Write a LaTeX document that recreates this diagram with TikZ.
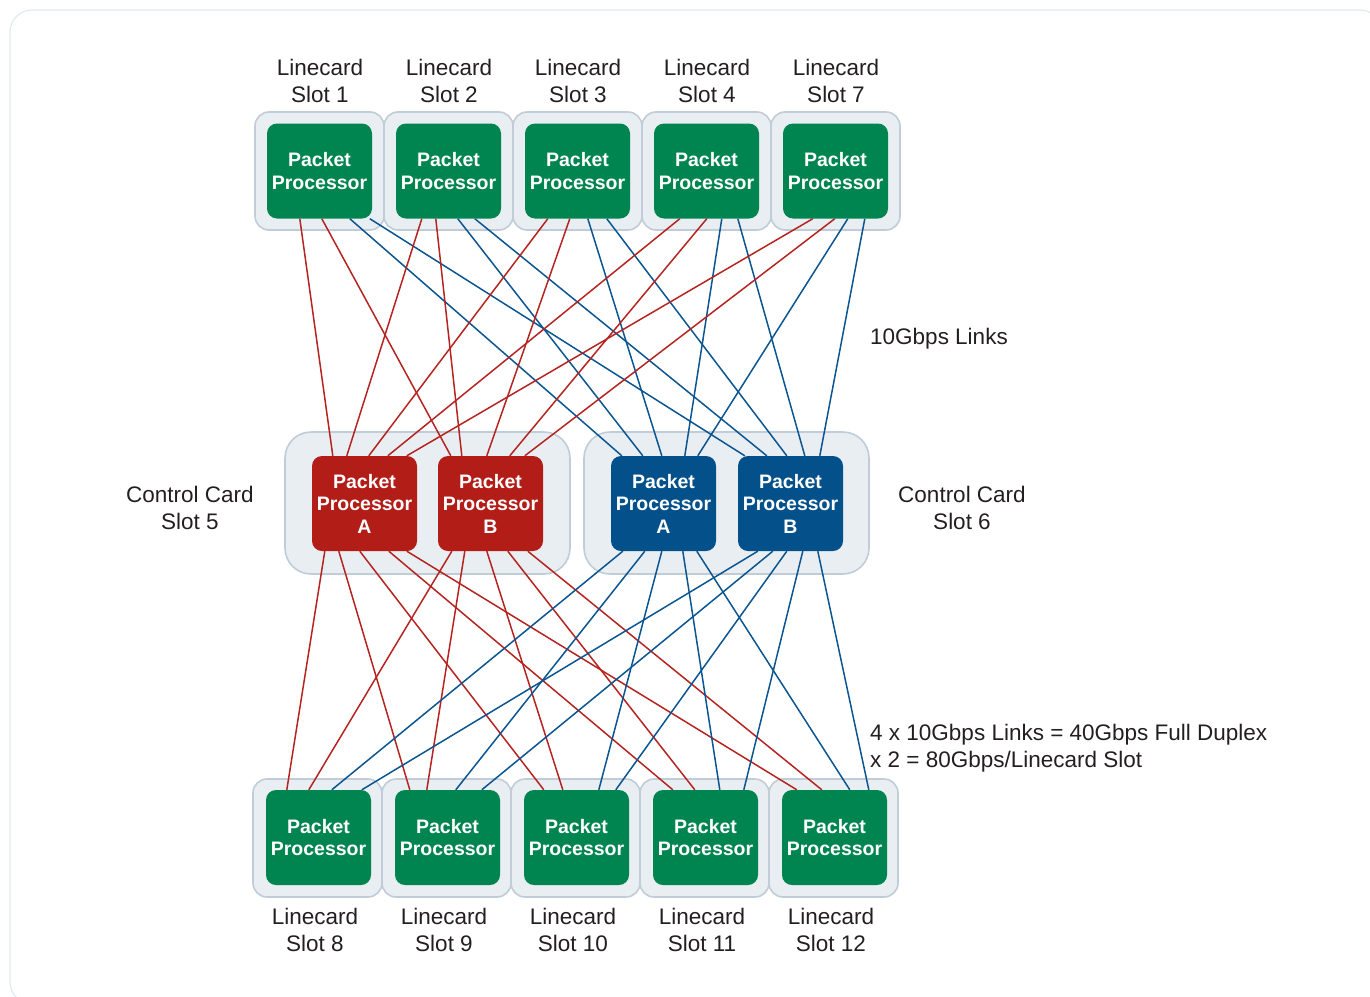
\documentclass[tikz,border=0pt]{standalone}
\usepackage{fontspec}
\setmainfont{Liberation Sans}
\definecolor{ppgreen}{RGB}{0,133,80}
\definecolor{ppred}{RGB}{179,29,24}
\definecolor{ppblue}{RGB}{3,80,138}
\definecolor{linered}{RGB}{181,36,32}
\definecolor{lineblue}{RGB}{11,85,144}
\definecolor{slotfill}{RGB}{233,238,242}
\definecolor{slotborder}{RGB}{192,204,216}
\definecolor{framecol}{RGB}{227,233,239}
\definecolor{labeltext}{RGB}{35,31,32}
\pgfdeclarelayer{back}
\pgfdeclarelayer{wires}
\pgfsetlayers{back,wires,main}
\begin{document}
\begin{tikzpicture}[x=1pt,y=-1pt,
  slotbox/.style={draw=slotborder, fill=slotfill, line width=1.6pt, rounded corners=14pt, inner sep=0pt, minimum width=129pt, minimum height=118pt},
  cardbox/.style={draw=slotborder, fill=slotfill, line width=1.6pt, rounded corners=26pt, inner sep=0pt, minimum width=285pt, minimum height=142pt},
  ppbox/.style={rounded corners=10pt, minimum width=105pt, minimum height=95pt, inner sep=0pt, text=white, font=\bfseries\fontsize{19.5}{22.5}\selectfont, align=center},
  gpp/.style={ppbox, fill=ppgreen},
  rpp/.style={ppbox, fill=ppred},
  bpp/.style={ppbox, fill=ppblue},
  rl/.style={draw=linered, line width=1.5pt},
  bl/.style={draw=lineblue, line width=1.5pt},
  lbl/.style={font=\fontsize{22.5}{27}\selectfont, align=center, text=labeltext, inner sep=0pt},
  note/.style={font=\fontsize{22.5}{27}\selectfont, align=left, text=labeltext, inner sep=0pt, anchor=west}]

\useasboundingbox (0,0) rectangle (1370,996);
\begin{scope}
  \clip (0,0) rectangle (1370,996);
  \draw[framecol, line width=1.2pt, rounded corners=22pt] (10,10) rectangle (1382,1004);
\end{scope}

% ---------- packet processors ----------
\node[gpp] (t1) at (319.5,171) {Packet\\Processor};
\node[gpp] (t2) at (448.5,171) {Packet\\Processor};
\node[gpp] (t3) at (577.5,171) {Packet\\Processor};
\node[gpp] (t4) at (706.5,171) {Packet\\Processor};
\node[gpp] (t5) at (835.5,171) {Packet\\Processor};

\node[rpp] (c5a) at (364.5,503.5) {Packet\\Processor\\A};
\node[rpp] (c5b) at (490.5,503.5) {Packet\\Processor\\B};
\node[bpp] (c6a) at (663.5,503.5) {Packet\\Processor\\A};
\node[bpp] (c6b) at (790.5,503.5) {Packet\\Processor\\B};

\node[gpp] (b1) at (318.5,837.5) {Packet\\Processor};
\node[gpp] (b2) at (447.5,837.5) {Packet\\Processor};
\node[gpp] (b3) at (576.5,837.5) {Packet\\Processor};
\node[gpp] (b4) at (705.5,837.5) {Packet\\Processor};
\node[gpp] (b5) at (834.5,837.5) {Packet\\Processor};

% ---------- slot boxes ----------
\begin{pgfonlayer}{back}
\node[slotbox] (s1) at (319.5,171) {};
\node[slotbox] (s2) at (448.5,171) {};
\node[slotbox] (s3) at (577.5,171) {};
\node[slotbox] (s4) at (706.5,171) {};
\node[slotbox] (s7) at (835.5,171) {};
\node[cardbox] (cc5) at (427.5,503) {};
\node[cardbox] (cc6) at (726.5,503) {};
\node[slotbox] (s8) at (317.5,838) {};
\node[slotbox] (s9) at (446.5,838) {};
\node[slotbox] (s10) at (575.5,838) {};
\node[slotbox] (s11) at (704.5,838) {};
\node[slotbox] (s12) at (833.5,838) {};
\end{pgfonlayer}

% ---------- links ----------
\begin{pgfonlayer}{wires}
% top row to control cards
\draw[rl] ([xshift=33pt]t1.south west) -- ([xshift=21pt]c5a.north west);
\draw[rl] ([xshift=55pt]t1.south west) -- ([xshift=13pt]c5b.north west);
\draw[bl] ([xshift=83pt]t1.south west) -- ([xshift=11pt]c6a.north west);
\draw[bl] ([xshift=103pt]t1.south west) -- ([xshift=7pt]c6b.north west);
\draw[rl] ([xshift=26pt]t2.south west) -- ([xshift=35pt]c5a.north west);
\draw[rl] ([xshift=40pt]t2.south west) -- ([xshift=24pt]c5b.north west);
\draw[bl] ([xshift=62pt]t2.south west) -- ([xshift=32pt]c6a.north west);
\draw[bl] ([xshift=79pt]t2.south west) -- ([xshift=29pt]c6b.north west);
\draw[rl] ([xshift=23pt]t3.south west) -- ([xshift=57pt]c5a.north west);
\draw[rl] ([xshift=45pt]t3.south west) -- ([xshift=49pt]c5b.north west);
\draw[bl] ([xshift=63pt]t3.south west) -- ([xshift=51pt]c6a.north west);
\draw[bl] ([xshift=82pt]t3.south west) -- ([xshift=49pt]c6b.north west);
\draw[rl] ([xshift=26pt]t4.south west) -- ([xshift=76pt]c5a.north west);
\draw[rl] ([xshift=53pt]t4.south west) -- ([xshift=72pt]c5b.north west);
\draw[bl] ([xshift=68pt]t4.south west) -- ([xshift=74pt]c6a.north west);
\draw[bl] ([xshift=84pt]t4.south west) -- ([xshift=67pt]c6b.north west);
\draw[rl] ([xshift=30pt]t5.south west) -- ([xshift=95pt]c5a.north west);
\draw[rl] ([xshift=52pt]t5.south west) -- ([xshift=87pt]c5b.north west);
\draw[bl] ([xshift=65pt]t5.south west) -- ([xshift=87pt]c6a.north west);
\draw[bl] ([xshift=82pt]t5.south west) -- ([xshift=82pt]c6b.north west);
% control cards to bottom row
\draw[rl] ([xshift=13pt]c5a.south west) -- ([xshift=21pt]b1.north west);
\draw[rl] ([xshift=27pt]c5a.south west) -- ([xshift=15pt]b2.north west);
\draw[rl] ([xshift=48pt]c5a.south west) -- ([xshift=20pt]b3.north west);
\draw[rl] ([xshift=77pt]c5a.south west) -- ([xshift=20pt]b4.north west);
\draw[rl] ([xshift=95pt]c5a.south west) -- ([xshift=15pt]b5.north west);
\draw[rl] ([xshift=14pt]c5b.south west) -- ([xshift=43pt]b1.north west);
\draw[rl] ([xshift=27pt]c5b.south west) -- ([xshift=32pt]b2.north west);
\draw[rl] ([xshift=49pt]c5b.south west) -- ([xshift=39pt]b3.north west);
\draw[rl] ([xshift=70pt]c5b.south west) -- ([xshift=42pt]b4.north west);
\draw[rl] ([xshift=90pt]c5b.south west) -- ([xshift=40pt]b5.north west);
\draw[bl] ([xshift=12pt]c6a.south west) -- ([xshift=66pt]b1.north west);
\draw[bl] ([xshift=34pt]c6a.south west) -- ([xshift=61pt]b2.north west);
\draw[bl] ([xshift=51pt]c6a.south west) -- ([xshift=75pt]b3.north west);
\draw[bl] ([xshift=72pt]c6a.south west) -- ([xshift=67pt]b4.north west);
\draw[bl] ([xshift=86pt]c6a.south west) -- ([xshift=68pt]b5.north west);
\draw[bl] ([xshift=20pt]c6b.south west) -- ([xshift=96pt]b1.north west);
\draw[bl] ([xshift=35pt]c6b.south west) -- ([xshift=87pt]b2.north west);
\draw[bl] ([xshift=49pt]c6b.south west) -- ([xshift=92pt]b3.north west);
\draw[bl] ([xshift=65pt]c6b.south west) -- ([xshift=91pt]b4.north west);
\draw[bl] ([xshift=80pt]c6b.south west) -- ([xshift=87pt]b5.north west);
\end{pgfonlayer}

% ---------- labels ----------
\node[lbl] (l1) at (320,81) {Linecard\\Slot 1};
\node[lbl] (l2) at (449,81) {Linecard\\Slot 2};
\node[lbl] (l3) at (578,81) {Linecard\\Slot 3};
\node[lbl] (l4) at (707,81) {Linecard\\Slot 4};
\node[lbl] (l7) at (836,81) {Linecard\\Slot 7};

\node[lbl] (l5) at (190,508) {Control Card\\Slot 5};
\node[lbl] (l6) at (962,508) {Control Card\\Slot 6};

\node[lbl] (l8) at (315,930) {Linecard\\Slot 8};
\node[lbl] (l9) at (444,930) {Linecard\\Slot 9};
\node[lbl] (l10) at (573,930) {Linecard\\Slot 10};
\node[lbl] (l11) at (702,930) {Linecard\\Slot 11};
\node[lbl] (l12) at (831,930) {Linecard\\Slot 12};

\node[note] (n1) at (870,339) {10Gbps Links};
\node[note] (n2) at (870,748) {4 x 10Gbps Links = 40Gbps Full Duplex\\x 2 = 80Gbps/Linecard Slot};
\end{tikzpicture}
\end{document}
